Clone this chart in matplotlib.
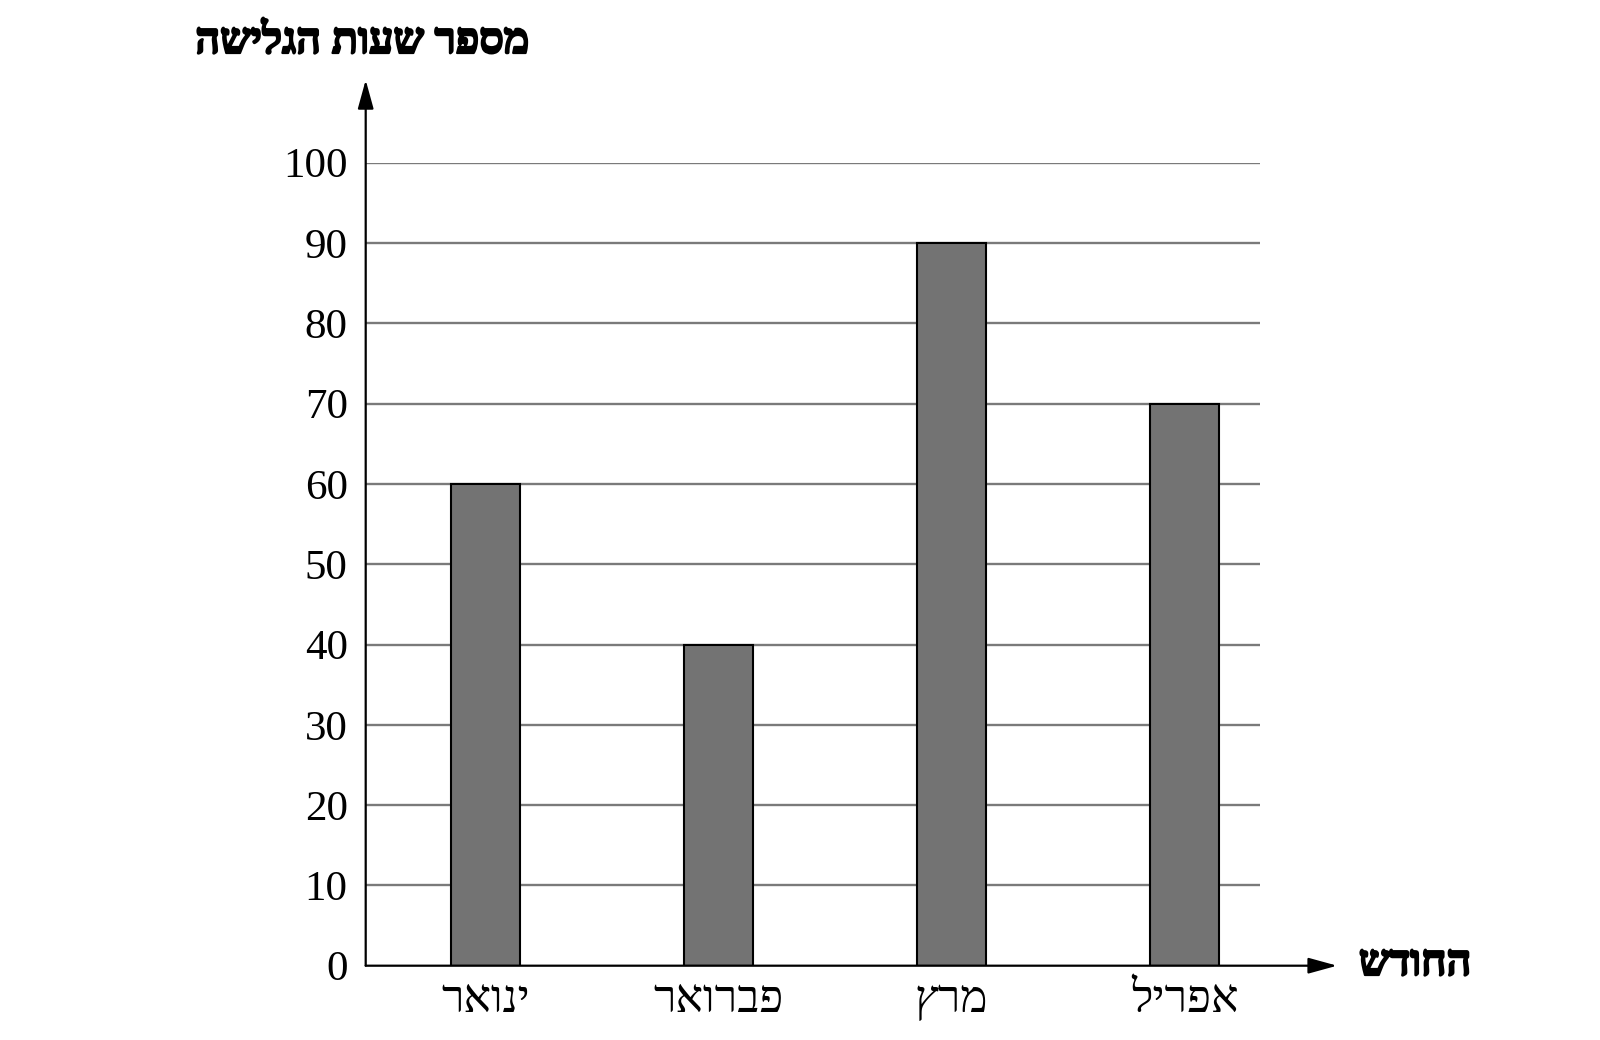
import matplotlib
matplotlib.use("Agg")
import matplotlib.pyplot as plt
import matplotlib.patheffects as pe

months = ["ינואר", "פברואר", "מרץ", "אפריל"]
hours = [60, 40, 90, 70]
yticks = [0, 10, 20, 30, 40, 50, 60, 70, 80, 90, 100]
y_title = "מספר שעות הגלישה"
x_title = "החודש"

def vis(s):
    return s[::-1]

serif = ["Liberation Serif", "DejaVu Serif"]

fig = plt.figure(figsize=(16, 10.4), dpi=100)
ax = fig.add_axes([365.7/1600, 1-965.7/1040, (1260-365.7)/1600, (965.7-162.7)/1040])
x = list(range(len(months)))
ax.bar(x, hours, width=0.3, color="#737373", edgecolor="black", linewidth=1.5, zorder=3)
ax.set_xlim(-0.514, 3.324)
ax.set_ylim(0, 100)
for t in yticks[1:]:
    ax.axhline(t, color="#7a7a7a", linewidth=1.7, zorder=1)
for s in ax.spines.values():
    s.set_visible(False)
ax.set_yticks(yticks)
ax.set_yticklabels([str(t) for t in yticks], fontfamily=serif, fontsize=31)
ax.set_xticks(x)
ax.set_xticklabels([vis(m) for m in months], fontfamily=serif, fontsize=33)
ax.tick_params(axis="y", length=0, pad=13)
ax.tick_params(axis="x", length=0, pad=10)

arrow = dict(arrowstyle="-|>,head_length=0.8,head_width=0.22", color="black", lw=1.6,
             mutation_scale=22, shrinkA=0, shrinkB=0)
ax.annotate("", xy=(3.655, 0), xytext=(-0.514, 0), xycoords="data",
            arrowprops=arrow, annotation_clip=False)
ax.annotate("", xy=(-0.514, 110.3), xytext=(-0.514, 0), xycoords="data",
            arrowprops=arrow, annotation_clip=False)

bold = [pe.withStroke(linewidth=1.6, foreground="black")]
fig.text(362/1600, 1-43/1040, vis(y_title), fontfamily=serif, fontsize=31, fontweight="bold",
         ha="center", va="center", path_effects=bold)
fig.text(1415/1600, 1-965/1040, vis(x_title), fontfamily=serif, fontsize=31, fontweight="bold",
         ha="center", va="center", path_effects=bold)

fig.savefig("out.png", dpi=100)
